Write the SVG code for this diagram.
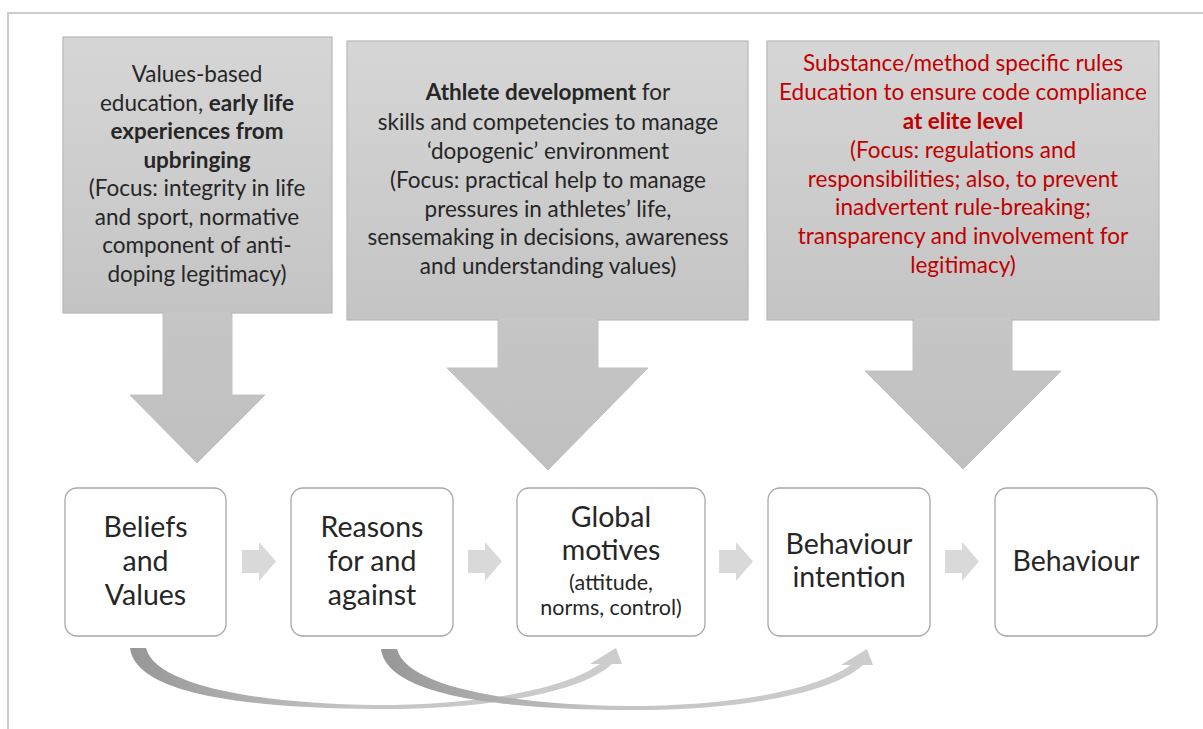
<svg xmlns="http://www.w3.org/2000/svg" width="1203" height="729" viewBox="0 0 1203 729">
  <style>
    .t { font-family: Lato, "Liberation Sans", sans-serif; fill: #262626; text-anchor: middle; }
    .top { font-size: 22.5px; }
    .red { fill: #c00000; }
    .node-t { font-size: 28.5px; }
    .small { font-size: 21.5px; }
    .b { font-weight: bold; }
    .node { fill: #ffffff; stroke: #a8a8a8; stroke-width: 1.3; }
    .panel { fill: url(#panelGrad); stroke: #b8b8b8; stroke-width: 1.2; }
    .down { fill: url(#arrowGrad); stroke: #c2c2c2; stroke-width: 1; }
    .chev { fill: #d9d9d9; }
    .curve { fill: url(#curveGrad); }
  </style>
  <defs>
    <linearGradient id="panelGrad" x1="0" y1="0" x2="0" y2="1">
      <stop offset="0" stop-color="#d6d6d6"/>
      <stop offset="1" stop-color="#c4c4c4"/>
    </linearGradient>
    <linearGradient id="arrowGrad" x1="0" y1="0" x2="0" y2="1">
      <stop offset="0" stop-color="#c6c6c6"/>
      <stop offset="1" stop-color="#bfbfbf"/>
    </linearGradient>
    <linearGradient id="curveGrad" gradientUnits="userSpaceOnUse" x1="130" y1="0" x2="622" y2="0">
      <stop offset="0" stop-color="#979797"/>
      <stop offset="0.45" stop-color="#c4c4c4"/>
      <stop offset="1" stop-color="#cdcdcd"/>
    </linearGradient>
  </defs>

  <!-- frame -->
  <g id="frame" fill="none" stroke="#cccccc" stroke-width="2">
    <path d="M8,729 V13 H1203"/>
  </g>

  <!-- education panels with downward block arrows -->
  <g id="panel-values">
    <polygon class="down" points="163,311 232,311 232,395 265,395 197,463 130,395 163,395"/>
    <rect class="panel" x="63" y="37" width="269" height="276"/>
    <rect x="164" y="311" width="67" height="4" fill="#c6c6c6"/>
    <text class="t top" x="197" y="82">Values-based</text>
    <text class="t top" x="197" y="111">education, <tspan class="b">early life</tspan></text>
    <text class="t top b" x="197" y="139">experiences from</text>
    <text class="t top b" x="197" y="168">upbringing</text>
    <text class="t top" x="197" y="196">(Focus: integrity in life</text>
    <text class="t top" x="197" y="225">and sport, normative</text>
    <text class="t top" x="197" y="253">component of anti-</text>
    <text class="t top" x="197" y="282">doping legitimacy)</text>
  </g>

  <g id="panel-development">
    <polygon class="down" points="498,318 598,318 598,368 648,368 548,470 447,368 498,368"/>
    <rect class="panel" x="347" y="41" width="401" height="279"/>
    <rect x="499" y="318" width="98" height="4" fill="#c6c6c6"/>
    <text class="t top" x="548" y="100"><tspan class="b">Athlete development</tspan> for</text>
    <text class="t top" x="548" y="130">skills and competencies to manage</text>
    <text class="t top" x="548" y="159">‘dopogenic’ environment</text>
    <text class="t top" x="548" y="188">(Focus: practical help to manage</text>
    <text class="t top" x="548" y="217">pressures in athletes’ life,</text>
    <text class="t top" x="548" y="245">sensemaking in decisions, awareness</text>
    <text class="t top" x="548" y="274">and understanding values)</text>
  </g>

  <g id="panel-rules">
    <polygon class="down" points="913,318 1012,318 1012,371 1061,371 963,469 865,371 913,371"/>
    <rect class="panel" x="767" y="41" width="392" height="279"/>
    <rect x="914" y="318" width="97" height="4" fill="#c6c6c6"/>
    <text class="t top red" x="963" y="71">Substance/method specific rules</text>
    <text class="t top red" x="963" y="100">Education to ensure code compliance</text>
    <text class="t top red b" x="963" y="129">at elite level</text>
    <text class="t top red" x="963" y="158">(Focus: regulations and</text>
    <text class="t top red" x="963" y="187">responsibilities; also, to prevent</text>
    <text class="t top red" x="963" y="215">inadvertent rule-breaking;</text>
    <text class="t top red" x="963" y="244">transparency and involvement for</text>
    <text class="t top red" x="963" y="273">legitimacy)</text>
  </g>

  <!-- process nodes -->
  <g id="node-beliefs">
    <rect class="node" x="65" y="488" width="161" height="148" rx="12"/>
    <text class="t node-t" x="145.5" y="537">Beliefs</text>
    <text class="t node-t" x="145.5" y="571">and</text>
    <text class="t node-t" x="145.5" y="605">Values</text>
  </g>
  <g id="node-reasons">
    <rect class="node" x="291" y="488" width="162" height="148" rx="12"/>
    <text class="t node-t" x="372" y="537">Reasons</text>
    <text class="t node-t" x="372" y="571">for and</text>
    <text class="t node-t" x="372" y="605">against</text>
  </g>
  <g id="node-motives">
    <rect class="node" x="517" y="488" width="188" height="148" rx="12"/>
    <text class="t node-t" x="611" y="527">Global</text>
    <text class="t node-t" x="611" y="560">motives</text>
    <text class="t small" x="611" y="590">(attitude,</text>
    <text class="t small" x="611" y="615">norms, control)</text>
  </g>
  <g id="node-intention">
    <rect class="node" x="768" y="488" width="162" height="148" rx="12"/>
    <text class="t node-t" x="849" y="554">Behaviour</text>
    <text class="t node-t" x="849" y="587">intention</text>
  </g>
  <g id="node-behaviour">
    <rect class="node" x="995" y="488" width="162" height="148" rx="12"/>
    <text class="t node-t" x="1076" y="571">Behaviour</text>
  </g>

  <!-- connectors -->
  <g id="connectors">
    <path class="chev" d="M242,550 H259 V542 L276,561.5 L259,581 V573 H242 Z"/>
    <path class="chev" d="M468,550 H485 V542 L502,561.5 L485,581 V573 H468 Z"/>
    <path class="chev" d="M719,550 H736 V542 L753,561.5 L736,581 V573 H719 Z"/>
    <path class="chev" d="M945,550 H962 V542 L979,561.5 L962,581 V573 H945 Z"/>
    <path id="curve-a" class="curve" d="M130,648 H146 C156,688 270,704 375,705 C470,705 560,692 600,664 L590,664 L616,648 L622,664 L612,664 C580,694 480,710 375,709 C255,708 136,696 130,648 Z"/>
    <path class="curve" transform="translate(251,1)" d="M130,648 H146 C156,688 270,704 375,705 C470,705 560,692 600,664 L590,664 L616,648 L622,664 L612,664 C580,694 480,710 375,709 C255,708 136,696 130,648 Z"/>
  </g>
</svg>
